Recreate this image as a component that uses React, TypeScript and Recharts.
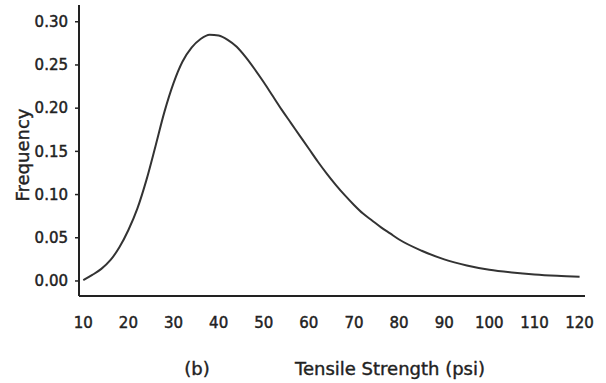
import { LineChart, Line, XAxis, YAxis } from 'recharts'

// readings (tensile strength vs frequency)
const strength = [
    10, 12, 14, 16, 18, 20, 22, 24, 26, 28, 30, 32, 34, 36, 38, 40, 42, 44, 46, 48,
    50, 52, 54, 56, 58, 60, 62, 64, 66, 68, 70, 72, 74, 76, 78, 80, 85, 90, 95, 100,
    105, 110, 115, 120
]
const frequency = [
    0.001, 0.007, 0.014, 0.024, 0.039, 0.059, 0.084, 0.117, 0.156, 0.196, 0.229, 0.254, 0.270, 0.280, 0.285, 0.284, 0.279, 0.271, 0.259, 0.245,
    0.23, 0.214, 0.198, 0.183, 0.168, 0.153, 0.138, 0.124, 0.111, 0.099, 0.088, 0.078, 0.07, 0.062, 0.055, 0.048, 0.035, 0.025, 0.018, 0.013,
    0.0098, 0.0075, 0.006, 0.005
]

const xTicks = [10, 20, 30, 40, 50, 60, 70, 80, 90, 100, 110, 120]
const yTicks = [0, 0.05, 0.1, 0.15, 0.2, 0.25, 0.3]

const graphData = strength.map((s, i) => ({ strength: s, frequency: frequency[i] }))

const ink = '#222'
const tickFont = { fontFamily: 'DejaVu Sans', fontSize: 15, fill: ink, stroke: ink, strokeWidth: 0.45 }
const titleStyle = {
    position: 'absolute' as const, fontFamily: 'DejaVu Sans', fontSize: 18, color: ink,
    whiteSpace: 'nowrap' as const, lineHeight: 1, WebkitTextStroke: '0.4px #222'
}

function App() {

    return (
        <div style={{ position: 'absolute', left: 0, top: 0, width: 606, height: 383, background: '#fff' }}>

            <LineChart
                width={606}
                height={383}
                data={graphData}
                margin={{ top: 5, right: 21, left: 19, bottom: 57 }}
            >

                <XAxis
                    dataKey="strength"
                    type="number"
                    domain={[9.05, 121.2]}
                    ticks={xTicks}
                    allowDataOverflow
                    height={30}
                    tickLine={false}
                    tickSize={0}
                    tickMargin={21}
                    axisLine={{ stroke: ink, strokeWidth: 2 }}
                    tick={tickFont}
                />

                <YAxis
                    type="number"
                    domain={[-0.0174, 0.3194]}
                    ticks={yTicks}
                    allowDataOverflow
                    width={60}
                    tickSize={4}
                    tickMargin={7}
                    tickFormatter={(v: number) => v.toFixed(2)}
                    axisLine={{ stroke: ink, strokeWidth: 2 }}
                    tickLine={{ stroke: ink, strokeWidth: 1.5 }}
                    tick={tickFont}
                />

                <Line
                    type="monotone"
                    dataKey="frequency"
                    stroke="#333"
                    strokeWidth={2}
                    dot={false}
                    isAnimationActive={false}
                />

            </LineChart>

            {/* axis titles */}
            <div style={{ ...titleStyle, left: 23, top: 155, transform: 'translate(-50%, -50%) rotate(-90deg)' }}>
                Frequency
            </div>

            <div style={{ ...titleStyle, left: 197, top: 369, transform: 'translate(-50%, -50%)' }}>
                (b)
            </div>

            <div style={{ ...titleStyle, left: 390, top: 369, transform: 'translate(-50%, -50%)' }}>
                Tensile Strength (psi)
            </div>

        </div>
    )
}

export default App
